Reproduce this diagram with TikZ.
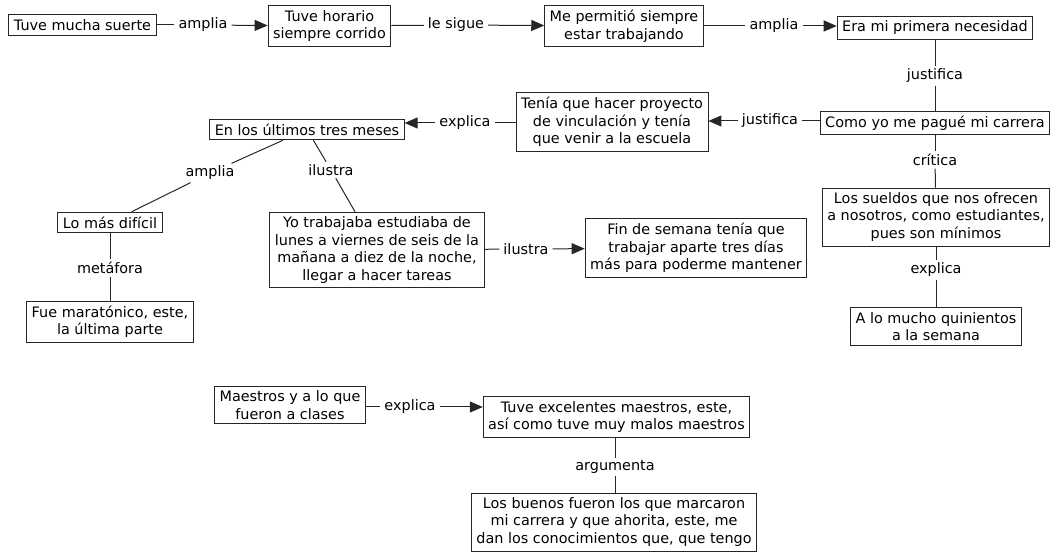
\documentclass[tikz,border=0pt]{standalone}
\usepackage{fontspec}
\setmainfont{DejaVu Sans}
\usetikzlibrary{arrows.meta}

\begin{document}
\begin{tikzpicture}[
    x=1pt, y=-1pt,
    concept/.style={draw=black!85, line width=0.9pt, align=center, inner xsep=5pt, inner ysep=4.5pt, font=\fontsize{14.4}{17.5}\selectfont},
    link/.style={inner xsep=4pt, inner ysep=2.5pt, font=\fontsize{14.4}{17.5}\selectfont},
    conn/.style={line width=1pt, black!85},
    arr/.style={conn, -{Triangle[length=13pt,width=11pt]}}
]
\useasboundingbox (0,0) rectangle (1053,553);

% top row
\node[concept] (suerte) at (82.5,25) {Tuve mucha suerte};
\node[concept] (horario) at (329.5,26) {Tuve horario\\siempre corrido};
\node[concept] (permitio) at (624,26) {Me permitió siempre\\estar trabajando};
\node[concept] (necesidad) at (935,28) {Era mi primera necesidad};

% right column
\node[concept] (pague) at (935,123) {Como yo me pagué mi carrera};
\node[concept] (sueldos) at (936,217) {Los sueldos que nos ofrecen\\a nosotros, como estudiantes,\\pues son mínimos};
\node[concept] (quinientos) at (936,326.5) {A lo mucho quinientos\\a la semana};

% middle
\node[concept] (vinculacion) at (612,122) {Tenía que hacer proyecto\\de vinculación y tenía\\que venir a la escuela};
\node[concept] (meses) at (307,129.5) {En los últimos tres meses};
\node[concept] (dificil) at (110,222.5) {Lo más difícil};
\node[concept] (maratonico) at (110,321.5) {Fue maratónico, este,\\la última parte};
\node[concept] (trabajaba) at (377,250) {Yo trabajaba estudiaba de\\lunes a viernes de seis de la\\mañana a diez de la noche,\\llegar a hacer tareas};
\node[concept] (semana) at (696,248) {Fin de semana tenía que\\trabajar aparte tres días\\más para poderme mantener};

% bottom group
\node[concept] (clases) at (290,405) {Maestros y a lo que\\fueron a clases};
\node[concept] (maestros) at (616.5,417) {Tuve excelentes maestros, este,\\así como tuve muy malos maestros};
\node[concept] (buenos) at (614,522) {Los buenos fueron los que marcaron\\mi carrera y que ahorita, este, me\\dan los conocimientos que, que tengo};

% linking phrases
\node[link] (l1) at (203,25) {amplia};
\node[link] (l2) at (456,25) {le sigue};
\node[link] (l3) at (774,26) {amplia};
\node[link] (l4) at (935,76) {justifica};
\node[link] (l5) at (770,121) {justifica};
\node[link] (l6) at (465,123) {explica};
\node[link] (l7) at (935,160) {crítica};
\node[link] (l8) at (936,270) {explica};
\node[link] (l9) at (210,173) {amplia};
\node[link] (l10) at (331,170) {ilustra};
\node[link] (l11) at (110,268) {metáfora};
\node[link] (l12) at (526,249) {ilustra};
\node[link] (l13) at (410,407) {explica};
\node[link] (l14) at (615,467) {argumenta};

% connections
\draw[conn] (suerte) -- (l1);
\draw[arr] (l1) -- (horario);
\draw[conn] (horario) -- (l2);
\draw[arr] (l2) -- (permitio);
\draw[conn] (permitio) -- (l3);
\draw[arr] (l3) -- (l3 -| necesidad.west);
\draw[conn] (necesidad) -- (l4);
\draw[conn] (l4) -- (pague);
\draw[conn] (pague.west |- l5) -- (l5);
\draw[arr] (l5) -- (l5 -| vinculacion.east);
\draw[conn] (vinculacion.west |- l6) -- (l6);
\draw[arr] (l6) -- (l6 -| meses.east);
\draw[conn] (pague) -- (l7);
\draw[conn] (l7) -- (sueldos);
\draw[conn] (sueldos) -- (l8);
\draw[conn] (l8) -- (quinientos);
\draw[conn] (meses) -- (l9);
\draw[conn] (l9) -- (dificil);
\draw[conn] (meses) -- (l10);
\draw[conn] (l10) -- (trabajaba);
\draw[conn] (dificil) -- (l11);
\draw[conn] (l11) -- (maratonico);
\draw[conn] (trabajaba) -- (l12);
\draw[arr] (l12) -- (semana);
\draw[conn] (clases.east |- l13) -- (l13);
\draw[arr] (l13) -- (l13 -| maestros.west);
\draw[conn] (maestros.south -| l14) -- (l14);
\draw[conn] (l14) -- (l14 |- buenos.north);

\end{tikzpicture}
\end{document}
